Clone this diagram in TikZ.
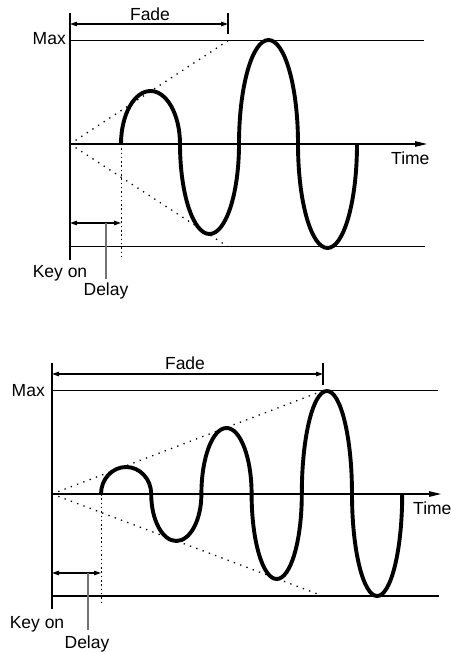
\documentclass[tikz,border=0pt]{standalone}
\usepackage{fontspec}
\setmainfont{Liberation Sans}
\usetikzlibrary{arrows.meta}

\begin{document}
\begin{tikzpicture}[x=1pt, y=-1pt,
  every node/.style={font=\fontsize{17.5}{20}\selectfont, inner sep=0pt},
  axis/.style={line width=1.2pt},
  guide/.style={line width=1.1pt},
  env/.style={line width=1.3pt, dash pattern=on 1.3pt off 5.4pt},
  mark line/.style={line width=0.9pt, dash pattern=on 1.5pt off 2.8pt},
  wave/.style={line width=3.9pt},
  span/.style={line width=1.1pt, {Triangle[length=7pt,width=4.5pt]}-{Triangle[length=7pt,width=4.5pt]}},
  timeax/.style={axis, -{Triangle[length=12pt,width=5.5pt]}},
  lead/.style={line width=1.3pt, black!55}]
\useasboundingbox (0,0) rectangle (450,652);

% upper panel
\coordinate (ko1) at (70,144);
\coordinate (dl1) at (121,144);
\coordinate (fe1) at (228,40.7);
\coordinate (fb1) at (228,246.7);
\draw[axis] (70,13) -- (70,260);
\draw[axis] (ko1 |- fe1) -- (424,40.7);
\draw[axis] (ko1 |- fb1) -- (425,246.7);
\draw[timeax] (ko1) -- (427,144);
\draw[guide] (228,13) -- (228,34);
\draw[span] (70,24) -- (228,24);
\draw[env] (ko1) -- (fe1) (ko1) -- (fb1);
\draw[mark line] (dl1) -- (121,259);
\draw[span] (70,223) -- (121,223);
\draw[lead] (106,223) -- (106,279);
\draw[wave] (dl1) \foreach \ry/\ea in {53/0,90/360,104/0,104/360} {
  arc[start angle=180, end angle=\ea, x radius=29.5pt, y radius=\ry pt]};
\node (fade1) at (150,14) {Fade};
\node[anchor=base east] (max1) at (66,45) {Max};
\node[anchor=base west] (time1) at (391,165) {Time};
\node[anchor=base] (keyon1) at (60,277) {Key on};
\node[anchor=base] (delay1) at (106,295) {Delay};

% lower panel
\coordinate (ko2) at (52,494);
\coordinate (dl2) at (101,494);
\coordinate (fe2) at (323,390.7);
\coordinate (fb2) at (323,596);
\draw[axis] (52,363) -- (52,609);
\draw[axis] (ko2 |- fe2) -- (438,390.7);
\draw[axis] (ko2 |- fb2) -- (439,596);
\draw[timeax] (ko2) -- (441,494);
\draw[guide] (323,363) -- (323,385);
\draw[span] (52,374) -- (323,374);
\draw[env] (ko2) -- (fe2) (ko2) -- (fb2);
\draw[mark line] (dl2) -- (101,602);
\draw[span] (52,573) -- (101,573);
\draw[lead] (88,573) -- (88,630);
\draw[wave] (dl2) \foreach \ry/\ea in {27/0,47/360,66/0,85/360,103/0,102/360} {
  arc[start angle=180, end angle=\ea, x radius=25.1pt, y radius=\ry pt]};
\node[anchor=base] (fade2) at (185,369) {Fade};
\node[anchor=base east] (max2) at (45,396) {Max};
\node[anchor=base west] (time2) at (413,514) {Time};
\node[anchor=base] (keyon2) at (37,628) {Key on};
\node[anchor=base] (delay2) at (87,648) {Delay};
\end{tikzpicture}
\end{document}
